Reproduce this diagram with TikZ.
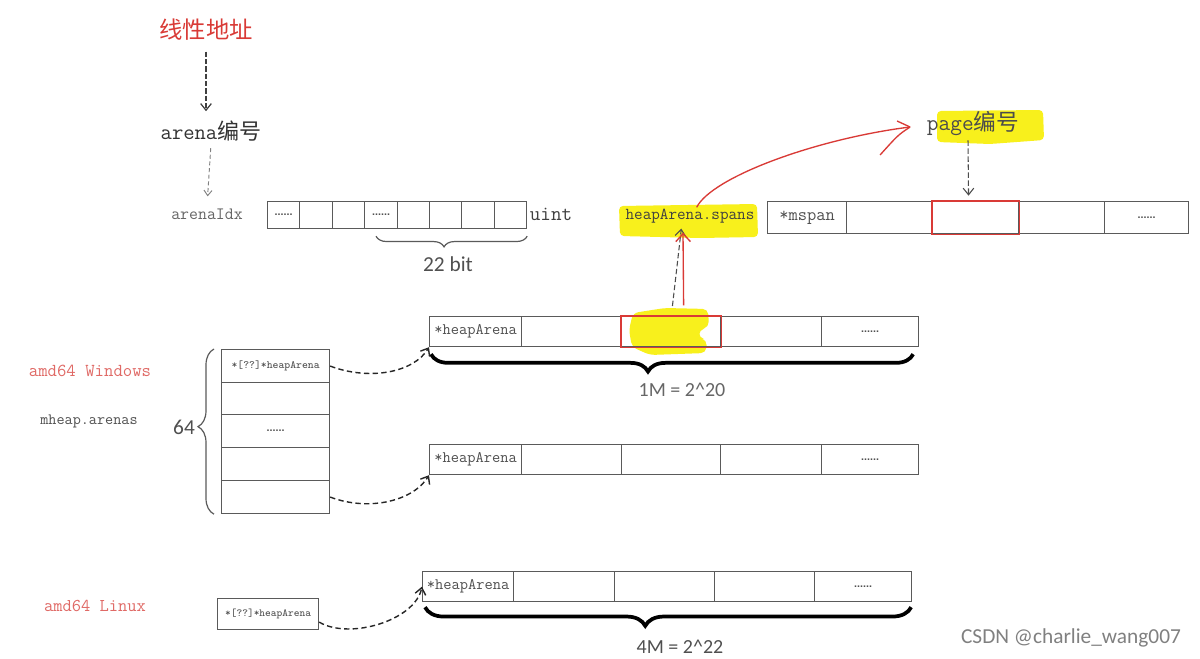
\documentclass[tikz,border=0pt]{standalone}
\usepackage{fontspec}
\newfontfamily\cjk{Noto Sans CJK SC}
\newfontfamily\lsans{Carlito}
\newfontfamily\dsans{Liberation Sans}
\usetikzlibrary{arrows.meta,decorations.pathreplacing,calc}
\definecolor{cellgray}{HTML}{5A5A5A}
\definecolor{redline}{HTML}{D93A36}
\definecolor{hl}{RGB}{248,240,28}
\definecolor{txtgray}{HTML}{505050}
\definecolor{pinkred}{HTML}{E06A66}
\tikzset{
  cell/.style={draw=cellgray, line width=0.9pt, inner sep=0pt, anchor=north west, text=txtgray},
  redframe/.style={draw=redline, line width=1pt},
  lbl/.style={inner sep=2pt, text=txtgray},
  barb/.style={-{Straight Barb[length=5pt,width=8pt]}},
  dcurve/.style={draw=black!85, line width=1.05pt, dash pattern=on 4pt off 2.5pt, barb},
  bracegray/.style={draw=cellgray, line width=0.9pt, decorate},
  bracethick/.style={draw=black, line width=2.8pt, decorate},
}
\newcommand\mkcell[7][]{\node[cell,#1,minimum width={(#5-#3)*0.75pt},minimum height={(#6-#4)*0.75pt}] (#2) at (#3,#4) {#7};}
\newcommand\celldots{{\dsans\bfseries\fontsize{8}{8}\selectfont ......}}
\begin{document}
\begin{tikzpicture}[x=0.75pt,y=-0.75pt]
\useasboundingbox (0,0) rectangle (1200,659);
\fill[white] (0,0) rectangle (1200,659);

% yellow highlights
\fill[hl, rounded corners=3pt] (937,111) -- (1043,110) -- (1044,140) -- (990,144) -- (937,142) -- cycle;
\fill[hl, rounded corners=3pt] (619,206) -- (757,204) -- (758,237) -- (700,238) -- (620,236) -- cycle;
\fill[hl, rounded corners=4pt] (633,313) -- (665,308) -- (708,309) -- (709,327) -- (699,330) -- (699,338) -- (707,340) -- (706,353) -- (650,355) -- (632,347) -- (629,330) -- cycle;

% text labels
\node[lbl, text=redline, font=\cjk\fontsize{17.5}{17.5}\selectfont] (lin) at (206,30) {线性地址};
\node[lbl, text=black!80] (arena) at (211,131) {{\ttfamily\fontsize{16.5}{16.5}\selectfont arena}{\cjk\fontsize{16.5}{16.5}\selectfont 编号}};
\node[lbl, text=black!60, font=\ttfamily\fontsize{13}{13}\selectfont] (idx) at (207,214) {arenaIdx};
\node[lbl, text=black!75, font=\ttfamily\fontsize{15.4}{15.4}\selectfont] (uint) at (551,214) {uint};
\node[lbl, font=\lsans\fontsize{16}{16}\selectfont] (bit) at (448,264) {22 bit};
\node[lbl, text=black!70] (page) at (973,124) {{\ttfamily\fontsize{17}{17}\selectfont page}{\cjk\fontsize{17}{17}\selectfont 编号}};
\node[lbl, inner sep=1pt, text=black!75, font=\ttfamily\fontsize{12.5}{12.5}\selectfont] (spans) at (690,216) {heapArena.spans};
\node[lbl, text=black!60, font=\lsans\fontsize{15}{15}\selectfont] (onem) at (682,390) {1M = 2\^{}20};
\node[lbl, text=pinkred, font=\ttfamily\fontsize{13.7}{13.7}\selectfont] (win) at (90,371) {amd64 Windows};
\node[lbl, font=\ttfamily\fontsize{11.8}{11.8}\selectfont] (marenas) at (89,421) {mheap.arenas};
\node[lbl, font=\lsans\fontsize{16}{16}\selectfont] (n64) at (184,427) {64};
\node[lbl, text=pinkred, font=\ttfamily\fontsize{13.5}{13.5}\selectfont] (linux) at (95,606) {amd64 Linux};
\node[lbl, font=\lsans\fontsize{15}{15}\selectfont] (fourm) at (680,647) {4M = 2\^{}22};
\node[lbl, text=black!50, font=\lsans\fontsize{16}{16}\selectfont] (csdn) at (1071,638) {CSDN @charlie\_wang007};

% arenaIdx row
\mkcell{a0}{267}{201}{299}{228}{\celldots}
\mkcell{a1}{299}{201}{332}{228}{}
\mkcell{a2}{332}{201}{364}{228}{}
\mkcell{a3}{364}{201}{397}{228}{\celldots}
\mkcell{a4}{397}{201}{429}{228}{}
\mkcell{a5}{429}{201}{461}{228}{}
\mkcell{a6}{461}{201}{494}{228}{}
\mkcell{a7}{494}{201}{526}{228}{}

% mspan row
\mkcell[font=\ttfamily\fontsize{13.5}{13.5}\selectfont]{m1}{767}{201}{846}{233}{*mspan}
\mkcell{m2}{846}{201}{932}{233}{}
\mkcell{m3}{932}{201}{1018}{233}{}
\mkcell{m4}{1018}{201}{1104}{233}{}
\mkcell{m5}{1104}{201}{1188}{233}{\celldots}

% heapArena row 1
\mkcell[font=\ttfamily\fontsize{12}{12}\selectfont]{h1}{429}{316}{521}{346}{*heapArena}
\mkcell{h2}{521}{316}{621}{346}{}
\mkcell{h3}{621}{316}{720}{346}{}
\mkcell{h4}{720}{316}{821}{346}{}
\mkcell{h5}{821}{316}{918}{346}{\celldots}

% red frames on top of the selected cells
\draw[redframe] (m3.north west) rectangle (m3.south east);
\draw[redframe] (h3.north west) rectangle (h3.south east);

% heapArena row 2
\mkcell[font=\ttfamily\fontsize{12}{12}\selectfont]{g1}{429}{444}{521}{474}{*heapArena}
\mkcell{g2}{521}{444}{621}{474}{}
\mkcell{g3}{621}{444}{720}{474}{}
\mkcell{g4}{720}{444}{821}{474}{}
\mkcell{g5}{821}{444}{918}{474}{\celldots}

% Linux row
\mkcell[font=\ttfamily\fontsize{12}{12}\selectfont]{l1}{422}{571}{513}{601}{*heapArena}
\mkcell{l2}{513}{571}{614}{601}{}
\mkcell{l3}{614}{571}{714}{601}{}
\mkcell{l4}{714}{571}{814}{601}{}
\mkcell{l5}{814}{571}{911}{601}{\celldots}

% mheap.arenas block
\mkcell[font=\ttfamily\fontsize{8.3}{8.3}\selectfont]{w0}{221}{349}{329}{382}{*[??]*heapArena}
\mkcell{w1}{221}{382}{329}{414}{}
\mkcell{w2}{221}{414}{329}{447}{\celldots}
\mkcell{w3}{221}{447}{329}{480}{}
\mkcell{w4}{221}{480}{329}{513}{}

% Linux small box
\mkcell[font=\ttfamily\fontsize{8.1}{8.1}\selectfont]{lx}{217}{598}{318}{629}{*[??]*heapArena}

% braces
\draw[bracegray, decoration={brace, amplitude=8pt, aspect=0.55}] (a7.south east) ++(0,7) -- ($(a3.south west)+(12,7)$);
\draw[bracegray, decoration={brace, amplitude=12pt, aspect=0.53}] ($(w4.south west)+(-7,0)$) -- ($(w0.north west)+(-7,0)$);
\draw[bracethick, decoration={brace, amplitude=13pt, aspect=0.55}] ($(h5.south east)+(-6,7)$) -- ($(h1.south west)+(2,7)$);
\draw[bracethick, decoration={brace, amplitude=14pt, aspect=0.547}] ($(l5.south east)+(-1,5)$) -- ($(l1.south west)+(3,5)$);

% dashed arrows at the top
\draw[black!75, line width=0.9pt, dash pattern=on 4pt off 1.5pt, barb, shorten <=6pt, shorten >=5pt] (lin.south) -- (lin.south |- arena.north);
\draw[black!50, line width=0.7pt, dash pattern=on 3pt off 2pt, -{Straight Barb[length=4pt,width=6pt]}, shorten <=3pt, shorten >=7pt] (arena.south) -- (idx.north);
\draw[black!70, line width=0.8pt, dash pattern=on 4pt off 2pt, barb, shorten <=1pt, shorten >=4pt] ([xshift=-3.75pt]page.south) -- ([xshift=-5.25pt]m3.north);

% dashed curves from mheap.arenas
\draw[dcurve] (w0.east) .. controls +(40,15) and +(-15,25) .. (h1.south west);
\draw[dcurve] (w4.east) .. controls +(40,15) and +(-15,25) .. (g1.south west);
\draw[dcurve] ([yshift=-6pt]lx.east) .. controls +(30,18) and +(-7,34) .. (l1.west);

% heapArena cell -> heapArena.spans
\draw[black!70, line width=0.8pt, dash pattern=on 4pt off 2pt, barb] ([xshift=1pt,yshift=7.5pt]h3.north) -- ([xshift=-6.5pt,yshift=-3pt]spans.south);
\draw[redline, line width=1pt, -{Straight Barb[length=6pt,width=11pt]}] ([xshift=9.4pt,yshift=8pt]h3.north) -- ([xshift=-5.25pt,yshift=-6pt]spans.south);

% heapArena.spans -> page
\coordinate (ptip) at ($(page.west)+(-14,3)$);
\draw[redline, line width=1pt] ([xshift=5pt]spans.north) .. controls +(15,-30) and +(-95,12) .. (ptip);
\draw[redline, line width=1pt] (ptip) -- ($(ptip)+(-13,-6)$);
\draw[redline, line width=1pt] (ptip) .. controls ($(ptip)+(-12,8)$) .. ($(ptip)+(-30,28)$);
\end{tikzpicture}
\end{document}
